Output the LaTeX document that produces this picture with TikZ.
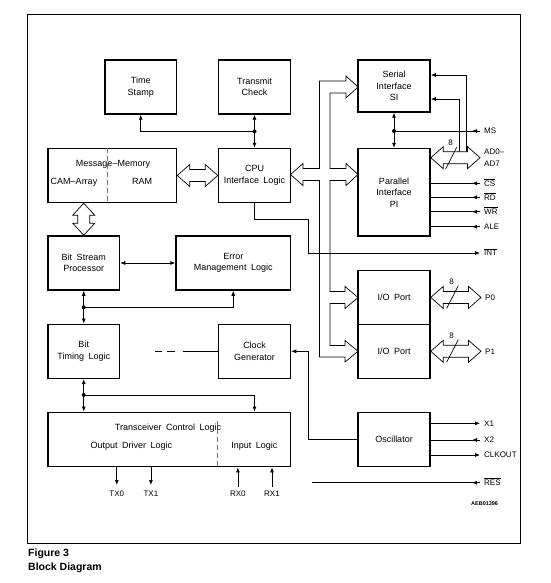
\documentclass[tikz,border=0pt]{standalone}
\usepackage{fontspec}
\setmainfont{Liberation Sans}
\usetikzlibrary{arrows.meta,calc}
\newcommand{\myovl}[1]{$\overline{\mbox{#1}}$}
\newcommand{\wsp}{\hspace{4.5pt}}
\newcommand{\hbus}[2]{%
 \draw[busline] let \p1=#1, \p2=#2 in
 (\x1,\y1) -- (\x1+12.5pt,\y1+11pt) -- (\x1+12.5pt,\y1+6pt) -- (\x2-12.5pt,\y1+6pt) -- (\x2-12.5pt,\y1+11pt) -- (\x2,\y1)
 -- (\x2-12.5pt,\y1-11pt) -- (\x2-12.5pt,\y1-6pt) -- (\x1+12.5pt,\y1-6pt) -- (\x1+12.5pt,\y1-11pt) -- cycle;}
\newcommand{\vbus}[2]{%
 \draw[busline] let \p1=#1, \p2=#2 in
 (\x1,\y1) -- (\x1+11pt,\y1-12pt) -- (\x1+6pt,\y1-12pt) -- (\x1+6pt,\y2+12pt) -- (\x1+11pt,\y2+12pt) -- (\x1,\y2)
 -- (\x1-11pt,\y2+12pt) -- (\x1-6pt,\y2+12pt) -- (\x1-6pt,\y1-12pt) -- (\x1-11pt,\y1-12pt) -- cycle;}
\begin{document}
\begin{tikzpicture}[x=1pt,y=-1pt,
  >={Latex[length=5pt,width=4pt]},
  blk/.style={draw,line width=1.5pt,inner sep=0pt,align=center,
     font=\fontsize{9}{11.5}\selectfont},
  conn/.style={line width=0.7pt},
  busline/.style={line width=0.7pt,fill=white},
  pin/.style={anchor=west,font=\fontsize{8}{9}\selectfont,inner sep=0pt,text height=5.7pt,text depth=0pt},
  pinc/.style={pin,anchor=center},
  lbl/.style={font=\fontsize{9}{11}\selectfont,inner sep=0pt,text height=6.4pt,text depth=0pt},
  dot/.style={circle,fill,inner sep=0pt,minimum size=4pt},
  divider/.style={black!55,line width=0.6pt,dash pattern=on 5pt off 3pt}
]
\useasboundingbox (0,0) rectangle (550,583);
\draw[line width=0.8pt] (27.5,14.5) rectangle (520,543.5);

% boxes
\node[blk,minimum width=71.5pt,minimum height=54pt] (ts) at (140.75,87) {Time\\Stamp};
\node[blk,minimum width=72pt,minimum height=54pt] (tc) at (254.5,87) {Transmit\\Check};
\node[blk,minimum width=72pt,minimum height=52pt] (si) at (394,86) {Serial\\Interface\\SI};
\node[blk,minimum width=128.5pt,minimum height=54pt] (mm) at (112.25,175.5) {};
\node[blk,minimum width=72pt,minimum height=54pt] (cpu) at (254.5,175.5) {CPU\\Interface\wsp Logic};
\node[blk,minimum width=72pt,minimum height=87.5pt] (pi) at (394,192.25) {Parallel\\Interface\\PI};
\node[blk,minimum width=71.5pt,minimum height=54pt] (bsp) at (83.75,263) {Bit\wsp Stream\\Processor};
\node[blk,minimum width=114.5pt,minimum height=54pt] (eml) at (233.25,263) {Error\\Management\wsp Logic};
\node[blk,minimum width=71.5pt,minimum height=54pt] (btl) at (83.75,351.3) {Bit\\Timing\wsp Logic};
\node[blk,minimum width=72pt,minimum height=54pt] (cg) at (254.5,351.3) {Clock\\Generator};
\node[blk,minimum width=72pt,minimum height=53.8pt] (io1) at (394,297.4) {I/O\wsp Port};
\node[blk,minimum width=72pt,minimum height=54pt] (io2) at (394,351.3) {I/O\wsp Port};
\node[blk,minimum width=242.5pt,minimum height=54.4pt] (tcl) at (169.25,439.5) {};
\node[blk,minimum width=72pt,minimum height=54.4pt] (osc) at (394,439.5) {Oscillator};

% inner labels
\draw[divider] (107,0 |- mm.north) -- (107,0 |- mm.south);
\node[lbl] (mmt) at (113,163) {Message--Memory};
\node[lbl] (cam) at (74,181.7) {CAM--Array};
\node[lbl] (ram) at (142,181.7) {RAM};
\draw[divider] (cpu.west |- 0,421) -- (cpu.west |- tcl.south);
\node[lbl] (tclt) at (168,427.7) {Transceiver\wsp Control\wsp Logic};
\node[lbl] (odl) at (131.4,445.7) {Output\wsp Driver\wsp Logic};
\node[lbl] (inl) at (254.4,445.7) {Input\wsp Logic};

% internal bus channel
\draw[busline] (303,168.5) -- (319.5,168.5) -- (319.5,81) -- (346,81) -- (346,76) -- (358,87) -- (346,98) -- (346,93)
  -- (330,93) -- (330,168.5) -- (346,168.5) -- (346,163.5) -- (358,174.5) -- (346,185.5) -- (346,180.5) -- (330,180.5)
  -- (330,291.5) -- (345,291.5) -- (345,286.5) -- (358,297.5) -- (345,308.5) -- (345,303.5) -- (330,303.5)
  -- (330,345.5) -- (345,345.5) -- (345,340.5) -- (358,351.3) -- (345,362) -- (345,357) -- (319.5,357)
  -- (319.5,180.5) -- (303,180.5) -- (303,185.5) -- (290.5,174.5) -- (303,163.5) -- cycle;

% memory buses
\hbus{(mm.east)}{(cpu.west)}
\vbus{(bsp.north |- mm.south)}{(bsp.north)}

% top connections
\coordinate (j1) at (254.5,131.5);
\draw[conn,->] (j1) -| (ts.south);
\draw[conn,<->] (tc.south) -- (cpu.north);
\node[dot] (d1) at (j1) {};

\coordinate (j2) at (394,131);
\draw[conn,<->] (si.south) -- (pi.north);
\node[dot] (d2) at (j2) {};
\coordinate (ms) at (480,131);
\draw[conn] (ms) -- (j2);
\draw[conn,->] (ms) -- ++(-8,0);
\node[pin] (pMS) at (484,131) {MS};

% SI inputs from AD bus
\draw[conn,->] (466,151.7) |- (si.east |- 0,75);
\draw[conn,->] (459.5,151.7) |- (si.east |- 0,99);

% AD bus
\coordinate (adR) at (480,157.7);
\hbus{(pi.east |- adR)}{(adR)}
\draw[conn] (445.7,169) -- (456.7,147.3);
\node[pinc] (n8a) at (450.7,142.7) {8};
\node[pin] (pAD0) at (484,151.7) {AD0--};
\node[pin] (pAD7) at (484,163.3) {AD7};

% PI control inputs
\foreach \yy/\txt/\nm in {183.3/\myovl{CS}/CS,197.3/\myovl{RD}/RD,211.7/\myovl{WR}/WR,226.7/ALE/ALE}{
  \coordinate (c\nm) at (480,\yy);
  \draw[conn] (pi.east |- c\nm) -- (c\nm);
  \draw[conn,->] (c\nm) -- ++(-8,0);
  \node[pin] (p\nm) at (484,\yy) {\txt};
}

% INT
\coordinate (cINT) at (480,253);
\draw[conn,->] (cpu.south) |- (308.3,219) -- (308.3,253) -- (cINT);
\node[pin] (pINT) at (484,253) {\myovl{INT}};

% IO buses
\coordinate (p0R) at (481,297.4);
\coordinate (p1R) at (481,351.3);
\hbus{(io1.east)}{(p0R)}
\hbus{(io2.east)}{(p1R)}
\draw[conn] (446.7,308.3) -- (458.3,285.7);
\node[pinc] (n8b) at (451.7,281.7) {8};
\draw[conn] (446.7,362.2) -- (458.3,339.6);
\node[pinc] (n8c) at (451.7,335.6) {8};
\node[pin] (pP0) at (485,297.4) {P0};
\node[pin] (pP1) at (485,351.3) {P1};

% left column connections
\draw[conn,<->] (bsp.east) -- (eml.west);
\coordinate (j3) at (83.75,307.3);
\draw[conn,<->] (bsp.south) -- (btl.north);
\draw[conn,->] (j3) -| (eml.south);
\node[dot] (d3) at (j3) {};
\coordinate (j4) at (83.75,395);
\draw[conn,<->] (btl.south) -- (btl.south |- tcl.north);
\draw[conn,->] (j4) -| (cg.south |- tcl.north);
\node[dot] (d4) at (j4) {};

% dashed link to clock generator
\coordinate (dstart) at (155,351.3);
\draw[conn,dash pattern=on 6.7pt off 5pt on 8.3pt off 7.7pt on 80pt] (dstart) -- (cg.west);

% oscillator to clock generator
\draw[conn,->] (osc.west) -| (308.8,351.3) -- (cg.east);

% oscillator pins
\coordinate (cX1) at (480,423.3);
\coordinate (cX2) at (480,440);
\coordinate (cCK) at (480,455);
\draw[conn,->] (osc.east |- cX1) -- (cX1);
\draw[conn] (osc.east |- cX2) -- (cX2);
\draw[conn,->] (cX2) -- ++(-8,0);
\draw[conn,->] (osc.east |- cCK) -- (cCK);
\node[pin] (pX1) at (484,423.3) {X1};
\node[pin] (pX2) at (484,440) {X2};
\node[pin] (pCK) at (484,455) {CLKOUT};

% reset
\coordinate (cRES) at (480,482.7);
\draw[conn] (311.6,482.7) -- (cRES);
\draw[conn,->] (cRES) -- ++(-8,0);
\node[pin] (pRES) at (484,482.7) {\myovl{RES}};

% transceiver pins
\draw[conn,->] (116.8,0 |- tcl.south) -- (116.8,485);
\draw[conn,->] (150.9,0 |- tcl.south) -- (150.9,485);
\draw[conn,<-] (237.9,0 |- tcl.south) -- (237.9,486.7);
\draw[conn,<-] (272,0 |- tcl.south) -- (272,486.7);
\node[pinc] (tx0) at (116.8,494) {TX0};
\node[pinc] (tx1) at (150.9,494) {TX1};
\node[pinc] (rx0) at (237.9,494) {RX0};
\node[pinc] (rx1) at (272,494) {RX1};

\node[inner sep=0pt,font=\fontsize{5.5}{6}\selectfont\bfseries] (aeb) at (484.6,504) {AEB01396};

% caption
\node[anchor=west,inner sep=0pt,font=\fontsize{10.5}{12}\selectfont\bfseries] (cap1) at (28,554) {Figure 3};
\node[anchor=west,inner sep=0pt,font=\fontsize{10.5}{12}\selectfont\bfseries] (cap2) at (28,568) {Block Diagram};
\end{tikzpicture}
\end{document}
